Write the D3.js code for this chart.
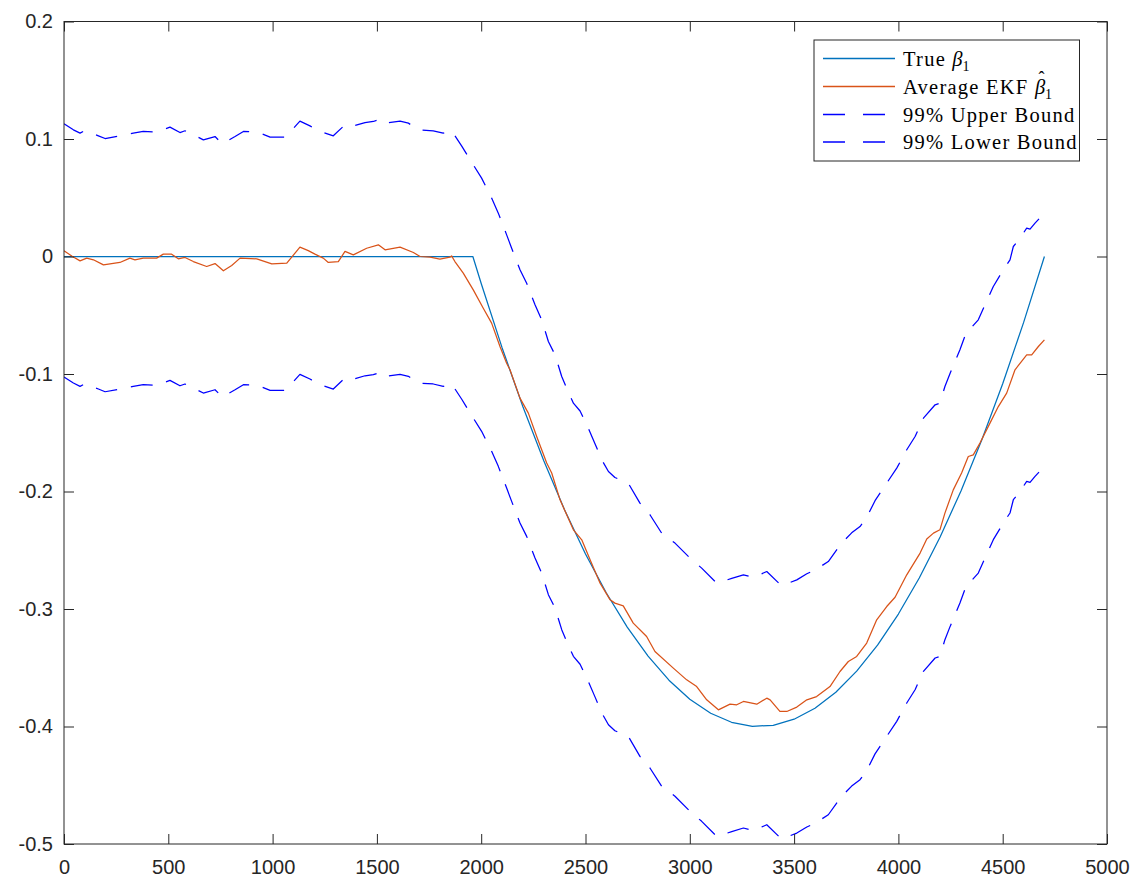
<!DOCTYPE html>
<html>
<head>
<meta charset="utf-8">
<script src="https://cdn.jsdelivr.net/npm/d3@7"></script>
<style>
  html, body { margin: 0; padding: 0; background: #fff; }
  svg { display: block; }
</style>
</head>
<body>
<svg id="chart" width="1143" height="886"></svg>
<script>
// Time index for the true parameter trajectory
const trueT = [0, 1960, 2000, 2100, 2200, 2300, 2400, 2500, 2600, 2700, 2800, 2900, 3000,
  3100, 3200, 3300, 3400, 3500, 3600, 3700, 3800, 3900, 4000, 4100, 4200, 4300, 4400, 4500, 4600, 4700];
const trueV = [0, 0, -0.0230, -0.0776, -0.1279, -0.1739, -0.2157, -0.2532, -0.2864, -0.3154, -0.3401,
  -0.3606, -0.3768, -0.3887, -0.3964, -0.3998, -0.3990, -0.3938, -0.3845, -0.3708, -0.3529, -0.3308,
  -0.3043, -0.2736, -0.2387, -0.1995, -0.1560, -0.1083, -0.0563, 0];

// Average EKF estimate
const ekfT = [0, 37, 77, 109, 141, 189, 268, 316, 340, 380, 444, 476, 516, 548, 580, 620, 684, 724, 764,
  804, 844, 924, 996, 1068, 1131, 1171, 1203, 1243, 1267, 1315, 1347, 1387, 1451, 1507, 1539, 1611,
  1675, 1707, 1755, 1802, 1850, 1858, 1874, 1914, 1962, 2010, 2050, 2090, 2122, 2138, 2186, 2226,
  2266, 2290, 2314, 2338, 2378, 2442, 2482, 2522, 2570, 2618, 2641, 2681, 2729, 2793, 2833, 2921,
  2985, 3033, 3081, 3137, 3193, 3225, 3257, 3321, 3369, 3385, 3432, 3465, 3513, 3561, 3608, 3672,
  3720, 3760, 3800, 3848, 3896, 3944, 3984, 4040, 4104, 4136, 4168, 4199, 4223, 4263, 4303, 4335,
  4359, 4391, 4439, 4479, 4519, 4559, 4615, 4639, 4671, 4700];
const ekfV = [0.0048, 0.0005, -0.0037, -0.0014, -0.0028, -0.0071, -0.0051, -0.0014, -0.0028, -0.0014,
  -0.0014, 0.0020, 0.0020, -0.0020, -0.0008, -0.0043, -0.0085, -0.0060, -0.0122, -0.0077, -0.0014,
  -0.0020, -0.0063, -0.0057, 0.0080, 0.0050, 0.0020, -0.0014, -0.0051, -0.0043, 0.0043, 0.0014,
  0.0070, 0.0099, 0.0057, 0.0080, 0.0034, 0, -0.0006, -0.0023, -0.0006, 0.0005, -0.0043, -0.0142,
  -0.0284, -0.0440, -0.0567, -0.0766, -0.0908, -0.0964, -0.1205, -0.1333, -0.1532, -0.1645, -0.1758,
  -0.1843, -0.2071, -0.2326, -0.2411, -0.2581, -0.2780, -0.2922, -0.2950, -0.2973, -0.3120, -0.3234,
  -0.3362, -0.3503, -0.3603, -0.3660, -0.3773, -0.3858, -0.3810, -0.3815, -0.3787, -0.3810, -0.3759,
  -0.3773, -0.3872, -0.3872, -0.3835, -0.3773, -0.3745, -0.3660, -0.3532, -0.3447, -0.3404, -0.3290,
  -0.3092, -0.2979, -0.2900, -0.2709, -0.2524, -0.2404, -0.2354, -0.2326, -0.2184, -0.1986, -0.1843,
  -0.1702, -0.1688, -0.1588, -0.1418, -0.1277, -0.1163, -0.0964, -0.0837, -0.0837, -0.0766, -0.0709];

// 99% confidence bounds (shared time index)
const boundT = [0, 45, 77, 101, 165, 197, 268, 332, 380, 444, 508, 556, 580, 604, 668, 724, 759, 820,
  860, 924, 988, 1059, 1083, 1131, 1179, 1227, 1291, 1347, 1379, 1443, 1483, 1515, 1539, 1611, 1651,
  1699, 1770, 1818, 1858, 1866, 1906, 1962, 2002, 2050, 2082, 2122, 2146, 2186, 2218, 2258, 2290,
  2322, 2354, 2386, 2418, 2442, 2474, 2506, 2546, 2578, 2610, 2641, 2705, 2761, 2809, 2865, 2929,
  3001, 3057, 3129, 3201, 3257, 3305, 3369, 3440, 3513, 3561, 3600, 3664, 3728, 3776, 3816, 3848,
  3888, 3944, 3992, 4040, 4080, 4120, 4176, 4199, 4223, 4248, 4295, 4327, 4343, 4383, 4415, 4455,
  4503, 4535, 4551, 4583, 4615, 4631, 4655, 4700];
const upperV = [0.1129, 0.1078, 0.1050, 0.1072, 0.1027, 0.1004, 0.1027, 0.1050, 0.1064, 0.1058, 0.1101,
  0.1055, 0.1070, 0.1050, 0.0993, 0.1021, 0.0959, 0.1021, 0.1064, 0.1061, 0.1016, 0.1016, 0.1058,
  0.1152, 0.1112, 0.1064, 0.1027, 0.1121, 0.1107, 0.1140, 0.1149, 0.1169, 0.1135, 0.1152, 0.1135,
  0.1078, 0.1070, 0.1050, 0.1072, 0.1050, 0.0942, 0.0780, 0.0667, 0.0497, 0.0369, 0.0184, 0.0071,
  -0.0113, -0.0227, -0.0411, -0.0539, -0.0723, -0.0837, -0.1021, -0.1155, -0.1248, -0.1315, -0.1432,
  -0.1595, -0.1730, -0.1830, -0.1881, -0.1929, -0.2099, -0.2198, -0.2354, -0.2439, -0.2567, -0.2652,
  -0.2780, -0.2740, -0.2709, -0.2732, -0.2681, -0.2803, -0.2752, -0.2700, -0.2669, -0.2596, -0.2439,
  -0.2352, -0.2298, -0.2220, -0.2078, -0.1929, -0.1801, -0.1645, -0.1532, -0.1376, -0.1262, -0.1248,
  -0.1106, -0.0993, -0.0794, -0.0638, -0.0618, -0.0539, -0.0411, -0.0255, -0.0113, -0.0028, 0.0085,
  0.0156, 0.0241, 0.0233, 0.0284, 0.0369];
const lowerV = [-0.1026, -0.1077, -0.1105, -0.1083, -0.1128, -0.1151, -0.1128, -0.1105, -0.1091, -0.1097,
  -0.1054, -0.1100, -0.1085, -0.1105, -0.1162, -0.1134, -0.1196, -0.1134, -0.1091, -0.1094, -0.1139,
  -0.1139, -0.1097, -0.1003, -0.1043, -0.1091, -0.1128, -0.1034, -0.1048, -0.1015, -0.1006, -0.0986,
  -0.1020, -0.1003, -0.1020, -0.1077, -0.1085, -0.1105, -0.1083, -0.1105, -0.1213, -0.1375, -0.1488,
  -0.1658, -0.1786, -0.1971, -0.2084, -0.2268, -0.2382, -0.2566, -0.2694, -0.2878, -0.2992, -0.3176,
  -0.3310, -0.3403, -0.3470, -0.3587, -0.3750, -0.3885, -0.3985, -0.4036, -0.4084, -0.4254, -0.4353,
  -0.4509, -0.4594, -0.4722, -0.4807, -0.4935, -0.4895, -0.4864, -0.4887, -0.4836, -0.4958, -0.4907,
  -0.4855, -0.4824, -0.4751, -0.4594, -0.4507, -0.4453, -0.4375, -0.4233, -0.4084, -0.3956, -0.3800,
  -0.3687, -0.3531, -0.3417, -0.3403, -0.3261, -0.3148, -0.2949, -0.2793, -0.2773, -0.2694, -0.2566,
  -0.2410, -0.2268, -0.2183, -0.2070, -0.1999, -0.1914, -0.1922, -0.1871, -0.1786];

const xTicks = [0, 500, 1000, 1500, 2000, 2500, 3000, 3500, 4000, 4500, 5000];
const yTicks = [0.2, 0.1, 0, -0.1, -0.2, -0.3, -0.4, -0.5];
const yTickLabels = ["0.2", "0.1", "0", "-0.1", "-0.2", "-0.3", "-0.4", "-0.5"];

const svg = d3.select("#chart");
const box = { left: 64, right: 1107, top: 21.5, bottom: 844 };

const x = d3.scaleLinear().domain([0, 5000]).range([box.left, box.right]);
const y = d3.scaleLinear().domain([-0.5, 0.2]).range([box.bottom, box.top]);

const axisColor = "#262626";
const tickFont = "'Liberation Sans', Arial, Helvetica, sans-serif";

svg.append("defs").append("clipPath").attr("id", "plotClip")
  .append("rect").attr("x", box.left).attr("y", box.top)
  .attr("width", box.right - box.left).attr("height", box.bottom - box.top);

const line = d3.line().x(d => x(d[0])).y(d => y(d[1]));
const zip = (t, v) => t.map((ti, i) => [ti, v[i]]);

const plot = svg.append("g").attr("clip-path", "url(#plotClip)");

const series = [
  { data: zip(trueT, trueV), color: "#0072BD", dash: null },
  { data: zip(ekfT, ekfV), color: "#D95319", dash: null },
  { data: zip(boundT, upperV), color: "#0000FF", dash: "22 14" },
  { data: zip(boundT, lowerV), color: "#0000FF", dash: "22 14" }
];

series.forEach(s => {
  plot.append("path")
    .attr("d", line(s.data))
    .attr("fill", "none")
    .attr("stroke", s.color)
    .attr("stroke-width", 1.25)
    .attr("stroke-dasharray", s.dash)
    .attr("stroke-linejoin", "round");
});

// Axes box with inward ticks on all four sides
const tickLen = 10;
const axes = svg.append("g");

const bottomAxis = d3.axisBottom(x).tickValues(xTicks).tickSize(-tickLen).tickPadding(16)
  .tickFormat(d3.format("d"));
const topAxis = d3.axisTop(x).tickValues(xTicks).tickSize(-tickLen).tickFormat("");
const leftAxis = d3.axisLeft(y).tickValues(yTicks).tickSize(-tickLen).tickPadding(11)
  .tickFormat((d, i) => yTickLabels[i]);
const rightAxis = d3.axisRight(y).tickValues(yTicks).tickSize(-tickLen).tickFormat("");

function styleAxis(g) {
  g.select(".domain").remove();
  g.selectAll(".tick line").attr("stroke", axisColor).attr("stroke-width", 1);
  g.selectAll(".tick text").attr("fill", axisColor)
    .style("font-family", tickFont).style("font-size", "20px");
}

axes.append("g").attr("transform", `translate(0,${box.bottom})`).call(bottomAxis).call(styleAxis);
axes.append("g").attr("transform", `translate(0,${box.top})`).call(topAxis).call(styleAxis);
axes.append("g").attr("transform", `translate(${box.left},0)`).call(leftAxis).call(styleAxis);
axes.append("g").attr("transform", `translate(${box.right},0)`).call(rightAxis).call(styleAxis);

axes.append("rect")
  .attr("x", box.left).attr("y", box.top)
  .attr("width", box.right - box.left).attr("height", box.bottom - box.top)
  .attr("fill", "none").attr("stroke", axisColor).attr("stroke-width", 1);

// Legend
const legendFont = "'Liberation Serif', 'Times New Roman', serif";
const lg = svg.append("g");
lg.append("rect")
  .attr("x", 814).attr("y", 40).attr("width", 265.5).attr("height", 121)
  .attr("fill", "#fff").attr("stroke", axisColor).attr("stroke-width", 1);

const legendRows = [
  { color: "#0072BD", dash: null, y: 58.5, parts: [["True ", null], ["β", "sym"], ["1", "sub"]] },
  { color: "#D95319", dash: null, y: 86.5, parts: [["Average EKF ", null], ["β", "hat"], ["1", "sub"]] },
  { color: "#0000FF", dash: "22 18", y: 114.5, parts: [["99% Upper Bound", null]] },
  { color: "#0000FF", dash: "22 18", y: 142, parts: [["99% Lower Bound", null]] }
];

legendRows.forEach(r => {
  lg.append("line")
    .attr("x1", 823).attr("x2", r.dash ? 885 : 895)
    .attr("y1", r.y).attr("y2", r.y)
    .attr("stroke", r.color).attr("stroke-width", 1.3)
    .attr("stroke-dasharray", r.dash);
  const t = lg.append("text")
    .attr("x", 903).attr("y", r.y + 7)
    .attr("fill", "#000")
    .style("font-family", legendFont).style("font-size", "20.5px")
    .style("letter-spacing", "1.25px");
  let charIndex = 0;
  let hatIndex = -1;
  r.parts.forEach(([txt, kind]) => {
    const ts = t.append("tspan").text(txt);
    if (kind === "sym" || kind === "hat") ts.style("font-style", "italic").style("letter-spacing", "0px");
    if (kind === "hat") hatIndex = charIndex;
    if (kind === "sub") ts.attr("dy", 5).style("font-size", "14px").style("letter-spacing", "0px");
    charIndex += txt.length;
  });
  // circumflex accent placed over the symbol, kept inside the same text element
  if (hatIndex >= 0) {
    const ext = t.node().getExtentOfChar(hatIndex);
    t.append("tspan")
      .attr("x", ext.x + ext.width / 2 + 1.5)
      .attr("y", ext.y + 8)
      .attr("text-anchor", "middle")
      .style("font-size", "18px")
      .style("letter-spacing", "0px")
      .text("\u02C6");
  }
});
</script>
</body>
</html>
